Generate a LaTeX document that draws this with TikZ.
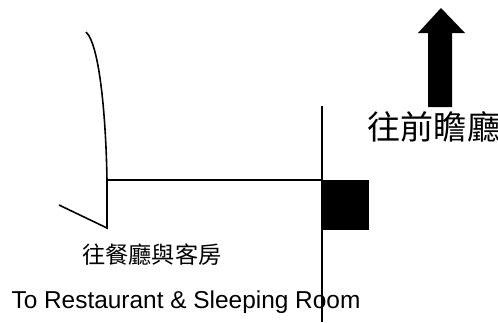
\documentclass[tikz,border=0pt]{standalone}
\usepackage{fontspec}
\setmainfont{Liberation Sans}
\newfontfamily\cjk{Noto Sans CJK TC}
\begin{document}
\begin{tikzpicture}[x=0.02cm, y=-0.02cm, wall/.style = {line width=0.9pt}, label/.style = {inner sep=0pt}]
\useasboundingbox (0,0) rectangle (498,322);

\coordinate (top) at (86,32);
\coordinate (corner) at (107,180);
\coordinate (foot) at (107,228);
\coordinate (tail) at (59,205);
\coordinate (cross) at (322,180);
\coordinate (walltop) at (322,106);
\coordinate (wallend) at (322,322);

\node[fill=black, minimum width=0.94cm, minimum height=1cm, inner sep=0pt, anchor=north west] (lobby) at (cross) {};

\draw[wall] (top) .. controls (100,45) and (106,120) .. (corner) -- (foot) -- (tail);
\draw[wall] (corner) -- (cross);
\draw[wall] (walltop) -- (wallend);

% arrow to the front lobby
\fill (428,107) -- (428,33) -- (418,33) -- (441,8) -- (465,33) -- (452,33) -- (452,107) -- cycle;

\node[label, font=\cjk\fontsize{18.8}{19}\selectfont] (front) at (434,127) {往前瞻廳};
\node[label, font=\cjk\fontsize{13.2}{14}\selectfont] (rooms) at (152,255) {往餐廳與客房};
\node[label, anchor=base, font=\fontsize{13.9}{16}\selectfont] (english) at (186,308) {To Restaurant \& Sleeping Room};
\end{tikzpicture}
\end{document}
